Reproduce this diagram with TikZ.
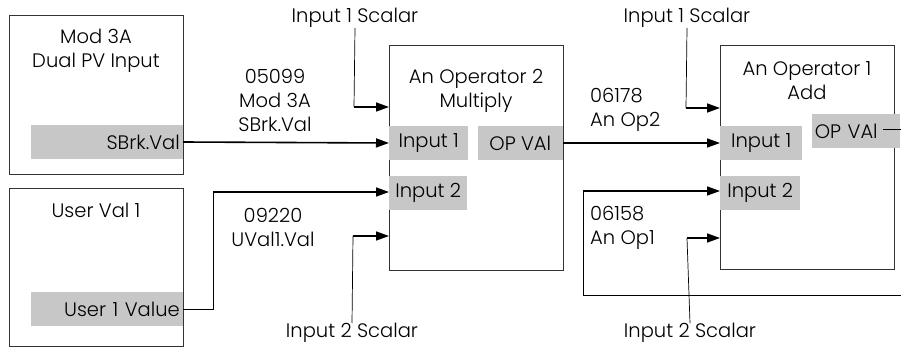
\documentclass[tikz,border=0pt]{standalone}
\usepackage{fontspec}
\setmainfont{Poppins Light}
\usetikzlibrary{arrows.meta,positioning}

\begin{document}
\begin{tikzpicture}[x=1pt,y=-1pt,font=\fontsize{19.5}{24}\selectfont,
  block/.style={draw=black!80, line width=0.8pt, minimum width=174pt, minimum height=#1, inner sep=0pt},
  port/.style={fill=black!22, inner sep=3pt, minimum width=#1, minimum height=34pt},
  title/.style={align=center, inner sep=0pt},
  tag/.style={align=#1, inner sep=0pt},
  wire/.style={draw=black, line width=0.7pt},
  feed/.style={-{Triangle[length=13pt,width=9pt]}, line width=1.6pt}]
  \useasboundingbox (0,0) rectangle (901,347);
  % function blocks
  \node[block=159pt] (mod) at (96,94.5) {};
  \node[block=158pt] (user) at (96,267) {};
  \node[block=225pt] (opA) at (476,157.5) {};
  \node[block=224pt] (opB) at (807,157) {};
  \node[title, below=14pt of mod.north] (modT) {Mod 3A\\Dual PV Input};
  \node[title, below=15pt of user.north] (userT) {User Val 1};
  \node[title, below=24pt of opA.north] (opAT) {An Operator 2\\Multiply};
  \node[title, below=17pt of opB.north] (opBT) {An Operator 1\\Add};
  % ports
  \node[port=152pt, anchor=east, align=right, text width=146pt] (sbrk) at (183,142) {SBrk.Val};
  \node[port=152pt, anchor=east, align=right, text width=146pt] (uval) at (183,309) {User 1 Value};
  \node[port=79pt, anchor=west] (inA1) at (389,143) {Input 1};
  \node[port=78pt, anchor=west] (inA2) at (389,193) {Input 2};
  \node[port=85pt, anchor=east] (outA) at (563,143) {OP VAl};
  \node[port=82pt, anchor=west] (inB1) at (720,143) {Input 1};
  \node[port=80pt, anchor=west] (inB2) at (720,193) {Input 2};
  \node[port=88pt, anchor=east, text width=82pt, align=left] (outB) at (900,131) {OP VAl};
  % scalar labels
  \node[tag=center] (scA1) at (355,18) {Input 1 Scalar};
  \node[tag=center] (scA2) at (352,333) {Input 2 Scalar};
  \node[tag=center] (scB1) at (687,18) {Input 1 Scalar};
  \node[tag=center] (scB2) at (690,333) {Input 2 Scalar};
  % wiring texts
  \node[tag=center] (wA1) at (275,100) {05099\\Mod 3A\\SBrk.Val};
  \node[tag=center] (wA2) at (273,227) {09220\\UVal1.Val};
  \node[tag=left, anchor=west] (wB1) at (590,110) {06178\\An Op2};
  \node[tag=left, anchor=west] (wB2) at (590,228) {06158\\An Op1};
  % entry points on the block edges
  \coordinate (eA1) at (389,107);
  \coordinate (eA2) at (389,236);
  \coordinate (eB1) at (720,108);
  \coordinate (eB2) at (720,238);
  \coordinate (kA1) at (354,107);
  \coordinate (kA2) at (353,236);
  \coordinate (kB1) at (686,108);
  \coordinate (kB2) at (687,238);
  \coordinate (kU) at (213,192);
  \coordinate (kF) at (583,191);
  \coordinate (fbR) at (901,295);
  \coordinate (fbL) at (583,295);
  \coordinate (tB0) at (883,129);
  \coordinate (tB) at (901,129);
  % connectors
  \draw[feed] (sbrk.east) -- (inA1.west);
  \draw[feed] (outA.east) -- (inB1.west);
  \draw[wire] (uval.east) -| (kU);
  \draw[feed] (kU) -- (inA2.west |- kU);
  \draw[wire] (scA1.south) -- (kA1);
  \draw[feed] (kA1) -- (eA1);
  \draw[wire] (scA2.north) -- (kA2);
  \draw[feed] (kA2) -- (eA2);
  \draw[wire] (scB1.south) -- (kB1);
  \draw[feed] (kB1) -- (eB1);
  \draw[wire] (scB2.north) -- (kB2);
  \draw[feed] (kB2) -- (eB2);
  \draw[wire] (tB0) -- (tB);
  \draw[wire] (fbR) -- (fbL) -- (kF);
  \draw[feed] (kF) -- (inB2.west |- kF);
\end{tikzpicture}
\end{document}
